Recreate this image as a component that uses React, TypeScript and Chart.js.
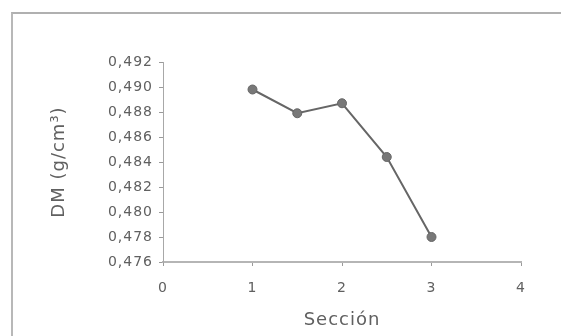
import React, { useEffect, useRef } from "react";
import { Chart, registerables } from "chart.js";

Chart.register(...registerables);

const sections = [1, 1.5, 2, 2.5, 3];
const dmValues = [0.4898, 0.4879, 0.4887, 0.4844, 0.478];
const xTicks = [0, 1, 2, 3, 4];
const yTicks = [0.476, 0.478, 0.48, 0.482, 0.484, 0.486, 0.488, 0.49, 0.492];
const xTitle = "Sección";
const yTitle = "DM (g/cm³)";

const FONT = "'DejaVu Sans', Verdana, sans-serif";
const TEXT = "#606060";

const spacingPlugin = {
  id: "letterSpacing",
  beforeLayout(chart: any) {
    chart.ctx.letterSpacing = "1px";
  },
  beforeDraw(chart: any) {
    chart.ctx.letterSpacing = "1px";
  },
};

export default function App() {
  const ref = useRef<HTMLCanvasElement | null>(null);

  useEffect(() => {
    if (!ref.current) return;
    const chart = new Chart(ref.current, {
      type: "scatter",
      plugins: [spacingPlugin],
      data: {
        datasets: [
          {
            data: sections.map((x, i) => ({ x, y: dmValues[i] })),
            showLine: true,
            borderColor: "#666666",
            borderWidth: 2,
            backgroundColor: "#787878",
            pointBackgroundColor: "#787878",
            pointBorderColor: "#666666",
            pointRadius: 4.5,
            pointBorderWidth: 1,
          },
        ],
      },
      options: {
        animation: false,
        responsive: false,
        maintainAspectRatio: false,
        layout: { padding: { left: 40, right: 40, top: 62, bottom: 4 } },
        plugins: { legend: { display: false }, tooltip: { enabled: false } },
        scales: {
          x: {
            type: "linear",
            min: 0,
            max: 4,
            afterBuildTicks: (s: any) => {
              s.ticks = xTicks.map((v) => ({ value: v }));
            },
            afterFit: (s: any) => {
              s.height = 70;
            },
            grid: {
              drawOnChartArea: false,
              drawTicks: true,
              tickLength: 4,
              color: "#9a9a9a",
            },
            border: { color: "#b5b5b5", width: 2 },
            ticks: {
              color: TEXT,
              font: { family: FONT, size: 14 },
              padding: 14,
              maxRotation: 0,
              callback: (v: any) => String(v),
            },
            title: {
              display: true,
              text: xTitle,
              color: TEXT,
              font: { family: FONT, size: 18 },
              padding: { top: 0, bottom: 1 },
            },
          },
          y: {
            type: "linear",
            min: 0.476,
            max: 0.492,
            afterBuildTicks: (s: any) => {
              s.ticks = yTicks.map((v) => ({ value: v }));
            },
            afterFit: (s: any) => {
              s.width = 123;
            },
            grid: {
              drawOnChartArea: false,
              drawTicks: true,
              tickLength: 4,
              color: "#9a9a9a",
            },
            border: { color: "#a8a8a8", width: 1 },
            ticks: {
              color: TEXT,
              font: { family: FONT, size: 14 },
              padding: 6,
              callback: (v: any) => Number(v).toFixed(3).replace(".", ","),
            },
            title: {
              display: true,
              text: yTitle,
              color: TEXT,
              font: { family: FONT, size: 18 },
              padding: { top: 9, bottom: 0 },
            },
          },
        },
      },
    });
    return () => chart.destroy();
  }, []);

  return (
    <div
      style={{
        position: "fixed",
        left: 0,
        top: 0,
        width: 561,
        height: 336,
        background: "#fff",
        overflow: "hidden",
      }}
    >
      <div
        style={{
          position: "absolute",
          left: 11,
          top: 12,
          width: 560,
          height: 330,
          borderTop: "2px solid #b0b0b0",
          borderLeft: "2px solid #b8b8b8",
        }}
      />
      <canvas
        ref={ref}
        width={561}
        height={336}
        style={{ position: "absolute", left: 0, top: 0, width: 561, height: 336 }}
      />
    </div>
  );
}
